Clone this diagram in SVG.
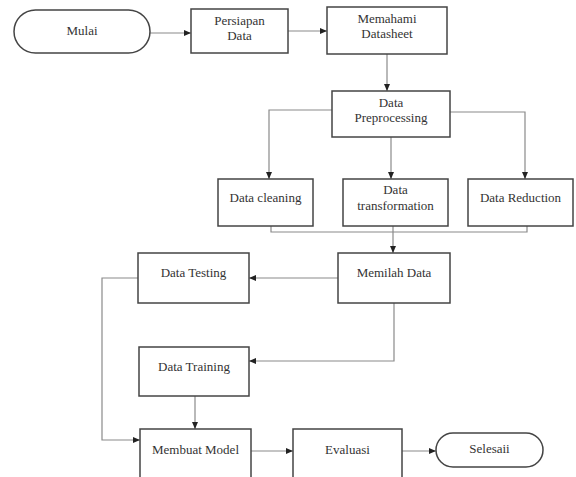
<svg xmlns="http://www.w3.org/2000/svg" width="576" height="477" viewBox="0 0 576 477">
<defs>
<style>
.box{fill:#fff;stroke:#444;stroke-width:1.5}
.c{fill:none;stroke:#8a8a8a;stroke-width:1.2}
text{font-family:"Liberation Serif","Times New Roman",serif;font-size:13px;fill:#333;text-anchor:middle;dominant-baseline:middle}
</style>
<marker id="ah" markerUnits="userSpaceOnUse" markerWidth="8" markerHeight="8" refX="7" refY="4" orient="auto">
<path d="M0,1 L7,4 L0,7 Z" fill="#222"/>
</marker>
</defs>
<rect width="576" height="477" fill="#fff"/>
<g id="connectors">
<line class="c" x1="150" y1="33" x2="191" y2="33" marker-end="url(#ah)"/>
<line class="c" x1="288" y1="31" x2="327" y2="31" marker-end="url(#ah)"/>
<line class="c" x1="387" y1="54" x2="387" y2="91" marker-end="url(#ah)"/>
<polyline class="c" points="332,110 269,110 269,179" marker-end="url(#ah)"/>
<line class="c" x1="391" y1="137" x2="391" y2="179" marker-end="url(#ah)"/>
<polyline class="c" points="450,112 525,112 525,179" marker-end="url(#ah)"/>
<polyline class="c" points="271,226 271,232 527,232 527,226"/>
<line class="c" x1="393" y1="226" x2="393" y2="253" marker-end="url(#ah)"/>
<line class="c" x1="338" y1="278" x2="249" y2="278" marker-end="url(#ah)"/>
<polyline class="c" points="394,303 394,361 249,361" marker-end="url(#ah)"/>
<polyline class="c" points="138,278 102,278 102,440 140,440" marker-end="url(#ah)"/>
<line class="c" x1="195" y1="396" x2="195" y2="429" marker-end="url(#ah)"/>
<line class="c" x1="251" y1="451" x2="293" y2="451" marker-end="url(#ah)"/>
<line class="c" x1="402" y1="451" x2="436" y2="451" marker-end="url(#ah)"/>
</g>
<g id="mulai"><rect class="box" x="14" y="10" width="136" height="43" rx="21.5"/><text x="82" y="32">Mulai</text></g>
<g id="persiapan"><rect class="box" x="191" y="9" width="97" height="44"/><text x="239.5" y="22">Persiapan</text><text x="239.5" y="37">Data</text></g>
<g id="memahami"><rect class="box" x="327" y="7" width="120" height="47"/><text x="387" y="20">Memahami</text><text x="387" y="35">Datasheet</text></g>
<g id="preprocessing"><rect class="box" x="332" y="91" width="118" height="46"/><text x="391" y="104">Data</text><text x="391" y="119">Preprocessing</text></g>
<g id="cleaning"><rect class="box" x="218" y="179" width="95" height="47"/><text x="265.5" y="199">Data cleaning</text></g>
<g id="transformation"><rect class="box" x="343" y="179" width="105" height="47"/><text x="395.5" y="191">Data</text><text x="395.5" y="207">transformation</text></g>
<g id="reduction"><rect class="box" x="468" y="179" width="105" height="47"/><text x="520.5" y="199">Data Reduction</text></g>
<g id="memilah"><rect class="box" x="338" y="253" width="112" height="50"/><text x="394" y="274">Memilah Data</text></g>
<g id="testing"><rect class="box" x="138" y="253" width="111" height="50"/><text x="193.5" y="274">Data Testing</text></g>
<g id="training"><rect class="box" x="139" y="347" width="110" height="49"/><text x="194" y="368">Data Training</text></g>
<g id="model"><rect class="box" x="140" y="429" width="111" height="60"/><text x="195.5" y="451">Membuat Model</text></g>
<g id="evaluasi"><rect class="box" x="293" y="429" width="109" height="60"/><text x="347.5" y="451">Evaluasi</text></g>
<g id="selesai"><rect class="box" x="436" y="433" width="107" height="34" rx="17"/><text x="489.5" y="450">Selesaii</text></g>
</svg>
